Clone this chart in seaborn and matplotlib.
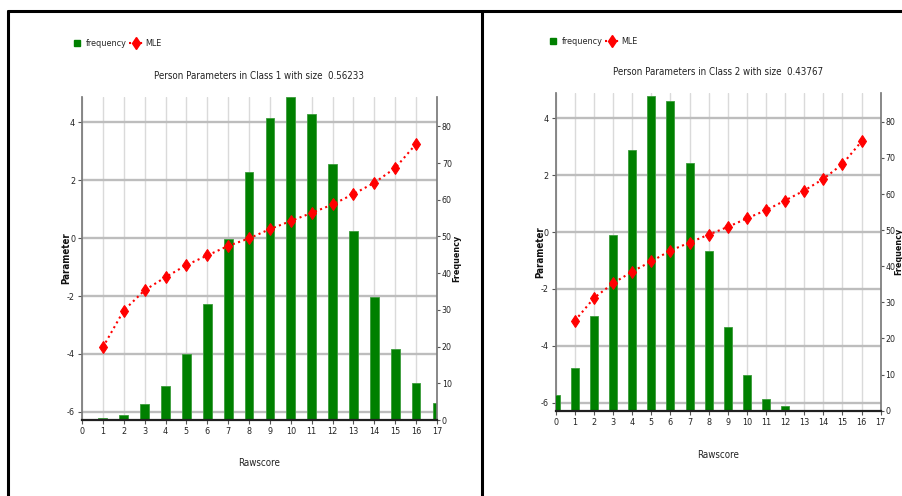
import matplotlib
matplotlib.use('Agg')
import matplotlib.pyplot as plt
from matplotlib.lines import Line2D
import seaborn as sns

# data
rawscore = list(range(18))
freq_c1 = [0, 0.5, 1.5, 4.3, 9.3, 18, 31.7, 49.2, 67.5, 82.3, 88, 83.5, 69.8, 51.5, 33.6, 19.3, 10.2, 4.6]
freq_c2 = [4.3, 11.8, 26.3, 48.7, 72.2, 87.2, 85.9, 68.5, 44.2, 23.2, 9.8, 3.3, 1.2, 0, 0, 0, 0, 0]
mle_score = list(range(1, 17))
mle_c1 = [-3.77, -2.5, -1.8, -1.35, -0.93, -0.6, -0.27, -0.01, 0.31, 0.59, 0.87, 1.16, 1.52, 1.91, 2.42, 3.25]
mle_c2 = [-3.12, -2.32, -1.8, -1.39, -1.03, -0.65, -0.37, -0.09, 0.18, 0.48, 0.77, 1.11, 1.46, 1.87, 2.39, 3.19]
titles = ['Person Parameters in Class 1 with size  0.56233',
          'Person Parameters in Class 2 with size  0.43767']
param_ticks = [-6, -4, -2, 0, 2, 4]
freq_ticks = [0, 10, 20, 30, 40, 50, 60, 70, 80]

sns.set_theme(style='white')
plt.rcParams['font.family'] = ['DejaVu Sans']
plt.rcParams['font.stretch'] = 'condensed'
plt.rcParams['axes.unicode_minus'] = False

fig = plt.figure(figsize=(9.03, 4.96), dpi=100)

GREEN = '#008000'
RED = '#ff0000'


def panel(rect, freq, mle, title, ptop, legend_xy, xlab_y, flab_x):
    ax = fig.add_axes(rect)
    ax2 = ax.twinx()
    ax3 = ax.twinx()
    ax.set_zorder(1)
    ax2.set_zorder(2)
    ax3.set_zorder(3)
    for a in (ax2, ax3):
        a.patch.set_visible(False)

    # bars on the frequency axis
    sns.barplot(x=rawscore, y=freq, native_scale=True, color=GREEN, saturation=1,
                width=0.42, edgecolor='#3c9c3c', linewidth=0.6, ax=ax2)
    # MLE curve on the parameter axis
    sns.lineplot(x=mle_score, y=mle, ax=ax3, color=RED, linestyle=':', lw=1.5,
                 marker='d', markersize=6.5, markeredgecolor=RED)

    ax.set_xlim(0, 17)
    ax.set_xticks(rawscore)
    ax.set_ylim(-6.28, ptop)
    ax.set_yticks(param_ticks)
    ax3.set_ylim(-6.28, ptop)
    ax2.set_ylim(0, 88)
    ax2.set_yticks(freq_ticks)
    ax3.set_yticks([])
    ax3.set_xlim(0, 17)

    ax.grid(axis='x', color='#dadada', lw=1)
    ax.grid(axis='y', color='#bdbdbd', lw=1.7)

    for s in ax.spines.values():
        s.set_visible(False)
    ax.spines['left'].set_visible(True)
    ax.spines['left'].set_color('#7a7a7a')
    for s in ax2.spines.values():
        s.set_visible(False)
    ax2.spines['right'].set_visible(True)
    ax2.spines['right'].set_color('#7a7a7a')
    ax2.spines['bottom'].set_visible(True)
    ax2.spines['bottom'].set_color('#202020')
    ax2.spines['bottom'].set_linewidth(1.6)
    for s in ax3.spines.values():
        s.set_visible(False)

    ax.tick_params(axis='both', which='both', direction='out', length=3, width=0.8,
                   color='#555555', labelsize=6.5, labelcolor='#222222', pad=2,
                   bottom=True, left=True)
    ax2.tick_params(axis='y', direction='out', length=2.5, width=0.8, color='#555555',
                    labelsize=6.3, labelcolor='#222222', pad=1, right=True)
    ax2.set_xlabel('')

    ax.set_title(title, fontsize=7, pad=13, color='#222222')
    ax.set_xlabel('Rawscore', fontsize=7, color='#222222')
    ax.xaxis.set_label_coords(0.5, xlab_y)
    ax.set_ylabel('Parameter', fontsize=7, color='#111111', fontweight='bold')
    ax.yaxis.set_label_coords(-0.031, 0.5)
    ax2.set_ylabel('Frequency', fontsize=6.5, color='#111111', fontweight='bold')
    ax2.yaxis.set_label_coords(flab_x, 0.5)

    handles = [Line2D([], [], color=GREEN, marker='s', markersize=4, linestyle='none'),
               Line2D([], [], color=RED, linestyle=':', lw=1.5, marker='d', markersize=6.5)]
    fig.legend(handles, ['frequency', 'MLE'], loc='center left', bbox_to_anchor=legend_xy,
               ncol=2, frameon=False, fontsize=6.5, handlelength=1.6, handletextpad=0.2,
               columnspacing=0.2, borderpad=0, borderaxespad=0)


panel([0.0908, 0.1532, 0.3931, 0.6512], freq_c1, mle_c1, titles[0], 4.87,
      (70 / 903, 1 - 44 / 496), -0.118, 1.043)
panel([0.6154, 0.1720, 0.3599, 0.6405], freq_c2, mle_c2, titles[1], 4.89,
      (546 / 903, 1 - 42 / 496), -0.124, 1.041)

# table-like frame around the two panels
for xs, ys in [([0.0089, 1.0], [0.978, 0.978]),
               ([0.0089, 0.0089], [0.0, 0.978]),
               ([0.534, 0.534], [0.0, 0.978])]:
    fig.add_artist(Line2D(xs, ys, transform=fig.transFigure, color='black', lw=2.2))

fig.savefig('out.png', dpi=100)
